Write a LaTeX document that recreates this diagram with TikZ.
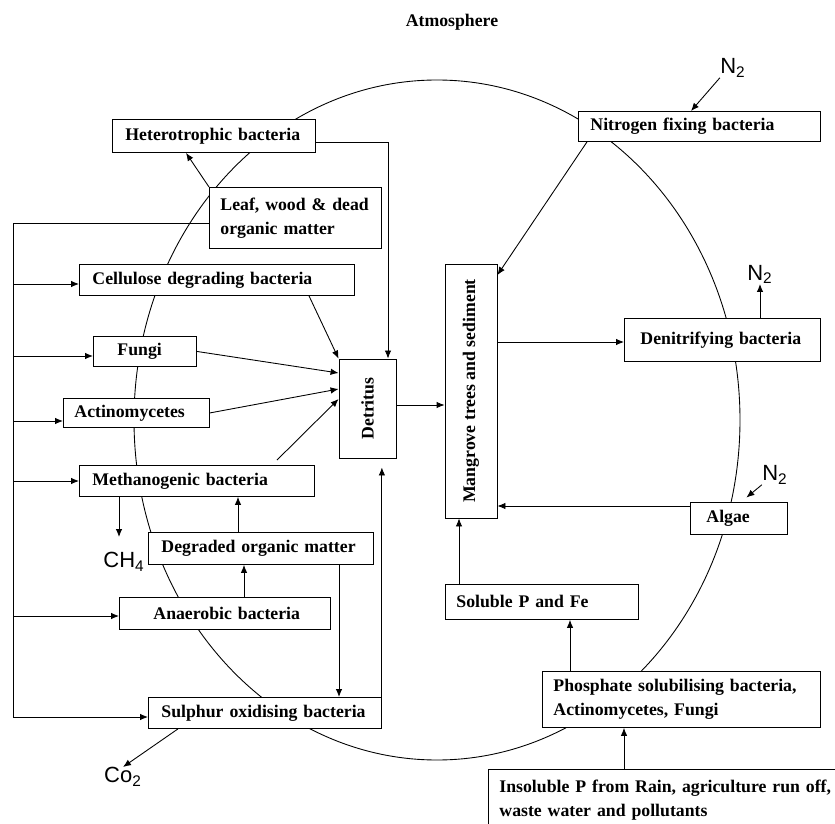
\documentclass[tikz,border=0pt]{standalone}
\usepackage{fontspec}
\usepackage{graphicx}
\setmainfont{Liberation Serif}
\newfontfamily\arialfont{Liberation Sans}
\usetikzlibrary{arrows.meta,calc}
\hyphenpenalty=10000
\exhyphenpenalty=10000

\begin{document}
\begin{tikzpicture}[x=0.2mm,y=-0.2mm,line width=0.5pt,
    box/.style={draw,fill=white,anchor=north west,align=left,inner ysep=0pt,
        font=\fontsize{10.1}{13.6}\selectfont\bfseries},
    vbox/.style={draw,fill=white,inner sep=0pt,
        font=\fontsize{10.1}{13.6}\selectfont\bfseries},
    gas/.style={inner sep=0pt,font=\arialfont\fontsize{12.5}{14}\selectfont},
    arr/.style={-{Latex[length=1.6mm,width=1.3mm]}}]
    \useasboundingbox (0,0) rectangle (835,824);
    \clip (0,0) rectangle (835,824);

    \node[font=\fontsize{10.1}{12}\selectfont\bfseries] (atm) at (452,22) {Atmosphere};
    \draw (437,420) ellipse [x radius=303, y radius=340];

    \node[box,inner xsep=0.26cm,text width=3.54cm,minimum height=0.66cm] (het) at (112,119) {Heterotrophic~bacteria};
    \node[box,inner xsep=0.22cm,text width=3.00cm,minimum height=1.22cm] (leaf) at (209,187) {Leaf,~wood~\&~dead\\organic~matter};
    \node[box,inner xsep=0.26cm,text width=4.98cm,minimum height=0.62cm] (cell) at (79,264) {Cellulose~degrading~bacteria};
    \node[box,inner xsep=0.48cm,text width=1.10cm,minimum height=0.60cm] (fungi) at (93,336) {Fungi};
    \node[box,inner xsep=0.22cm,text width=2.48cm,minimum height=0.58cm] (actino) at (63,398) {Actinomycetes};
    \node[box,inner xsep=0.26cm,text width=4.18cm,minimum height=0.62cm] (meth) at (79,465) {Methanogenic~bacteria};
    \node[box,inner xsep=0.26cm,text width=3.98cm,minimum height=0.64cm] (degr) at (148,532) {Degraded~organic~matter};
    \node[box,inner xsep=0.68cm,text width=2.86cm,minimum height=0.64cm] (anaer) at (119,597) {Anaerobic~bacteria};
    \node[box,inner xsep=0.26cm,text width=4.14cm,minimum height=0.62cm] (sulph) at (148,697) {Sulphur~oxidising~bacteria};
    \node[box,inner xsep=0.24cm,text width=4.36cm,minimum height=0.60cm] (nitro) at (578,111) {Nitrogen~fixing~bacteria};
    \node[box,inner xsep=0.32cm,text width=3.28cm,minimum height=0.86cm] (denit) at (624,318) {Denitrifying~bacteria};
    \node[box,inner xsep=0.32cm,text width=1.30cm,minimum height=0.64cm] (algae) at (690,502) {Algae};
    \node[box,inner xsep=0.22cm,text width=3.42cm,minimum height=0.70cm] (solub) at (445,584) {Soluble~P~and~Fe};
    \node[box,inner xsep=0.22cm,text width=5.12cm,minimum height=1.12cm] (phos) at (542,671) {Phosphate~solubilising~bacteria,\\Actinomycetes,~Fungi};
    \node[box,inner xsep=0.22cm,text width=7.20cm,minimum height=1.24cm] (insol) at (488,769) {Insoluble~P~from~Rain,~agriculture~run~off,\\waste~water~and~pollutants};
    \node[vbox,minimum width=1.14cm,minimum height=1.98cm] (det) at (367.5,408.5) {\rotatebox{90}{Detritus}};
    \node[vbox,minimum width=1.04cm,minimum height=5.08cm] (mang) at (471,391) {\rotatebox{90}{Mangrove~trees~and~sediment}};

    \node[gas] (n2a) at (733,68) {N\textsubscript{2}};
    \node[gas,anchor=south] (n2b) at (760,284) {N\textsubscript{2}};
    \node[gas] (n2c) at (775,475) {N\textsubscript{2}};
    \node[gas,anchor=north] (ch4) at (124,552) {CH\textsubscript{4}};
    \node[gas,anchor=north] (co2) at (123,767) {Co\textsubscript{2}};

    \coordinate (bustop) at (13,223);
    \coordinate (busend) at (13,717);
    \draw (leaf.west |- bustop) -- (bustop) -- (busend);
    \draw[arr] (busend) -- (sulph.west |- busend);
    \foreach \n/\y in {cell/284,fungi/356,actino/421,meth/481,anaer/616}
        \draw[arr] (bustop |- 0,\y) -- (\n.west |- 0,\y);

    \draw[arr] (het.east |- 0,142) -| (det.north -| 388,0);
    \draw[arr] (leaf.north west) -- (het.south -| 186,0);
    \draw[arr] (cell.south -| 309,0) -- (det.north west);
    \draw[arr] (fungi.east) -- (det.west |- 0,373);
    \draw[arr] (actino.east) -- (det.west |- 0,389);
    \draw[arr,shorten <=1.4mm] (meth.north -| 272,0) -- (det.west |- 0,399);
    \draw[arr] (det.east |- 0,405) -- (mang.west |- 0,405);
    \draw[arr,shorten >=3mm] (meth.south -| 119,0) -- (ch4.north -| 119,0);
    \draw[arr] (degr.north -| 238,0) -- (meth.south -| 238,0);
    \draw[arr] (anaer.north -| 244,0) -- (degr.south -| 244,0);
    \draw[arr] (degr.south -| 339,0) -- (sulph.north -| 339,0);
    \draw[arr,shorten >=1.8mm] (sulph.north east) -- (det.south -| sulph.north east);
    \draw[arr] (sulph.south -| 178,0) -- (co2.north);

    \draw[arr] (nitro.south -| 587,0) -- (mang.east |- 0,275);
    \draw[arr] (n2a.south west) -- (nitro.north -| 691,0);
    \draw[arr] (mang.east |- 0,342) -- (denit.west |- 0,342);
    \draw[arr] (denit.north -| 760,0) -- (n2b.south);
    \draw[arr] (algae.west |- 0,506) -- (mang.east |- 0,506);
    \draw[arr,shorten >=1.4mm] (n2c.south west) -- (algae.north -| 741,0);
    \draw[arr] (solub.north -| 459,0) -- (mang.south -| 459,0);
    \draw[arr] (phos.north -| 570,0) -- (solub.south -| 570,0);
    \draw[arr] (insol.north -| 624,0) -- (phos.south -| 624,0);
\end{tikzpicture}
\end{document}
